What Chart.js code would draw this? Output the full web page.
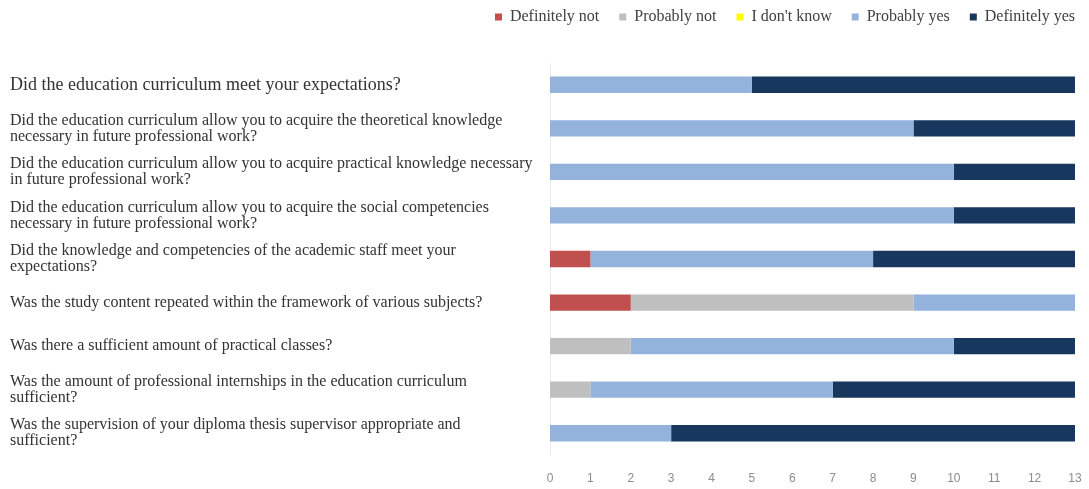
<!DOCTYPE html>
<html>
<head>
<meta charset="utf-8">
<script src="https://cdn.jsdelivr.net/npm/chart.js@4"></script>
<style>
  html, body { margin: 0; padding: 0; background: #fff; }
  #wrap { width: 1089px; height: 489px; }
</style>
</head>
<body>
<div id="wrap"><canvas id="survey-chart"></canvas></div>
<script>
// questions (wrapped the way they appear on the left)
const questions = [
    "Did the education curriculum meet your expectations?",
    ["Did the education curriculum allow you to acquire the theoretical knowledge", "necessary in future professional work?"],
    ["Did the education curriculum allow you to acquire practical knowledge necessary", "in future professional work?"],
    ["Did the education curriculum allow you to acquire the social competencies", "necessary in future professional work?"],
    ["Did the knowledge and competencies of the academic staff meet your", "expectations?"],
    "Was the study content repeated within the framework of various subjects?",
    "Was there a sufficient amount of practical classes?",
    ["Was the amount of professional internships in the education curriculum", "sufficient?"],
    ["Was the supervision of your diploma thesis supervisor appropriate and", "sufficient?"]
];

// answers per question
const definitelyNot = [0, 0, 0, 0, 1, 2, 0, 0, 0];
const probablyNot   = [0, 0, 0, 0, 0, 7, 2, 1, 0];
const dontKnow      = [0, 0, 0, 0, 0, 0, 0, 0, 0];
const probablyYes   = [5, 9, 10, 10, 7, 4, 8, 6, 3];
const definitelyYes = [8, 4, 3, 3, 5, 0, 3, 6, 10];

const xTicks = [0, 1, 2, 3, 4, 5, 6, 7, 8, 9, 10, 11, 12, 13];

const LEGEND_PAD = 20;

// legend sits high and to the right, plot starts lower
const legendPlace = {
    id: 'legendPlace',
    beforeInit(chart) {
        const fit = chart.legend.fit;
        chart.legend.fit = function () {
            fit.bind(chart.legend)();
            this.height = 63;
        };
    },
    afterLayout(chart) {
        const lg = chart.legend;
        lg.top = 9 - LEGEND_PAD;
        lg.right += LEGEND_PAD;
    }
};

const ctx = document.getElementById("survey-chart").getContext("2d");
new Chart(ctx, {
    type: 'bar',
    data: {
        labels: questions,
        datasets: [
            { label: 'Definitely not', data: definitelyNot, backgroundColor: '#C0504D' },
            { label: 'Probably not', data: probablyNot, backgroundColor: '#BFBFBF' },
            { label: "I don't know", data: dontKnow, backgroundColor: '#FFFF00' },
            { label: 'Probably yes', data: probablyYes, backgroundColor: '#93B3DC' },
            { label: 'Definitely yes', data: definitelyYes, backgroundColor: '#17375E' }
        ]
    },
    options: {
        indexAxis: 'y',
        responsive: true,
        maintainAspectRatio: false,
        animation: false,
        datasets: { bar: { categoryPercentage: 0.75, barPercentage: 0.5 } },
        layout: { padding: { left: 10, right: 14, top: 0, bottom: 4 } },
        plugins: {
            legend: {
                align: 'end',
                labels: {
                    boxWidth: 7,
                    boxHeight: 7,
                    padding: LEGEND_PAD,
                    color: '#404040',
                    font: { family: "'Liberation Serif', 'Times New Roman', serif", size: 16 }
                }
            },
            tooltip: { enabled: false }
        },
        scales: {
            x: {
                stacked: true,
                min: 0,
                max: 13,
                afterBuildTicks: (axis) => { axis.ticks = xTicks.map(v => ({ value: v })); },
                afterFit: (axis) => {
                    axis.height = 30;
                    axis.paddingLeft = 0;
                    axis.paddingRight = 0;
                },
                grid: { display: false, drawTicks: false },
                border: { display: false },
                ticks: {
                    padding: 16,
                    color: '#8c8c8c',
                    font: { family: "'Liberation Sans', Arial, sans-serif", size: 12 }
                }
            },
            y: {
                stacked: true,
                afterFit: (axis) => { axis.width = 540; },
                grid: { display: false, drawTicks: false },
                border: { display: true, color: '#ececec' },
                ticks: {
                    crossAlign: 'far',
                    color: '#333',
                    font: (c) => ({
                        family: "'Liberation Serif', 'Times New Roman', serif",
                        size: c.index === 0 ? 18 : 16,
                        lineHeight: 1.0
                    })
                }
            }
        }
    },
    plugins: [legendPlace]
});
</script>
</body>
</html>
